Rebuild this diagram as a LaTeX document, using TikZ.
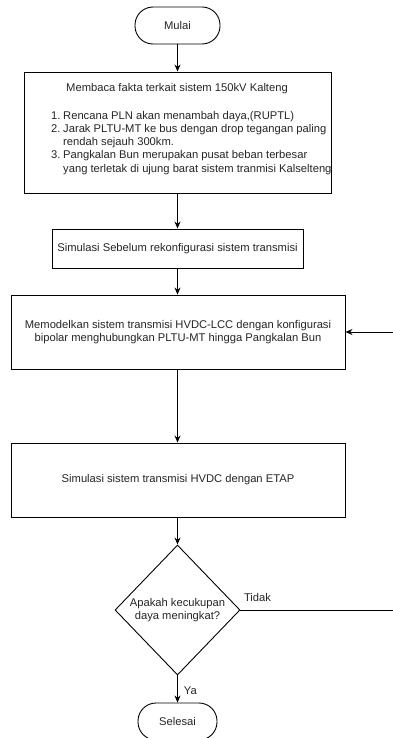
\documentclass[tikz,border=0pt]{standalone}
\usepackage{fontspec}
\setmainfont{Liberation Sans}
\usetikzlibrary{arrows.meta,shapes.geometric}
\begin{document}
\begin{tikzpicture}[x=1pt,y=-1pt,
  every node/.style={font=\fontsize{11.2}{13.2}\selectfont, text=black!85},
  terminal/.style={draw, line width=0.9pt, rounded corners=18pt, inner sep=0pt},
  procbox/.style={draw, line width=0.9pt, inner sep=0pt, align=center},
  decision/.style={draw, line width=0.9pt, shape=diamond, inner sep=0pt, align=center},
  plain/.style={inner sep=0pt},
  flow/.style={line width=0.9pt, -{Stealth[length=7pt,width=6pt]}},
  line/.style={line width=0.9pt}]
\useasboundingbox (0,0) rectangle (393,738);
\fill[white] (0,0) rectangle (393,738);

\node[terminal, minimum width=85pt, minimum height=37pt] (mulai) at (177.5,25.5) {Mulai};

\node[procbox, minimum width=307pt, minimum height=121pt] (baca) at (177.5,132.5) {};
\node[plain] (bacatitle) at (177,89) {Membaca fakta terkait sistem 150kV Kalteng};
\node[plain, anchor=north west, align=left] (bacalist) at (51,111) {%
\makebox[12pt][l]{1.}Rencana PLN akan menambah daya,(RUPTL)\\
\makebox[12pt][l]{2.}Jarak PLTU-MT ke bus dengan drop tegangan paling\\
\hspace*{12pt}rendah sejauh 300km.\\
\makebox[12pt][l]{3.}Pangkalan Bun merupakan pusat beban terbesar\\
\hspace*{12pt}yang terletak di ujung barat sistem tranmisi Kalselteng};

\node[procbox, minimum width=251pt, minimum height=39pt] (sim1) at (177.5,248.5) {Simulasi Sebelum rekonfigurasi sistem transmisi};

\node[procbox, minimum width=334pt, minimum height=74pt] (model) at (178,332) {Memodelkan sistem transmisi HVDC-LCC dengan konfigurasi\\bipolar menghubungkan PLTU-MT hingga Pangkalan Bun};

\node[procbox, minimum width=334pt, minimum height=74pt] (sim2) at (178,480) {Simulasi sistem transmisi HVDC dengan ETAP};

\node[decision, minimum width=125pt, minimum height=130pt] (cek) at (177.5,610) {Apakah kecukupan\\daya meningkat?};

\node[terminal, minimum width=79pt, minimum height=37pt] (selesai) at (177.5,721.5) {Selesai};

\coordinate (loopin) at (393,332);
\coordinate (loopout) at (393,610);

\draw[flow] (mulai.south) -- (baca.north -| mulai.south);
\draw[flow] (baca.south -| mulai.south) -- (sim1.north -| mulai.south);
\draw[flow] (sim1.south -| mulai.south) -- (model.north -| mulai.south);
\draw[flow] (model.south -| mulai.south) -- (sim2.north -| mulai.south);
\draw[flow] (sim2.south -| mulai.south) -- (cek.north);
\draw[flow] (cek.south) -- node[plain, right=6pt, pos=0.55] (ya) {Ya} (selesai.north);
\draw[line] (cek.east) -- (loopout);
\node[plain] (tidak) at (257.5,597) {Tidak};
\draw[flow] (loopin) -- (model.east);
\end{tikzpicture}
\end{document}
